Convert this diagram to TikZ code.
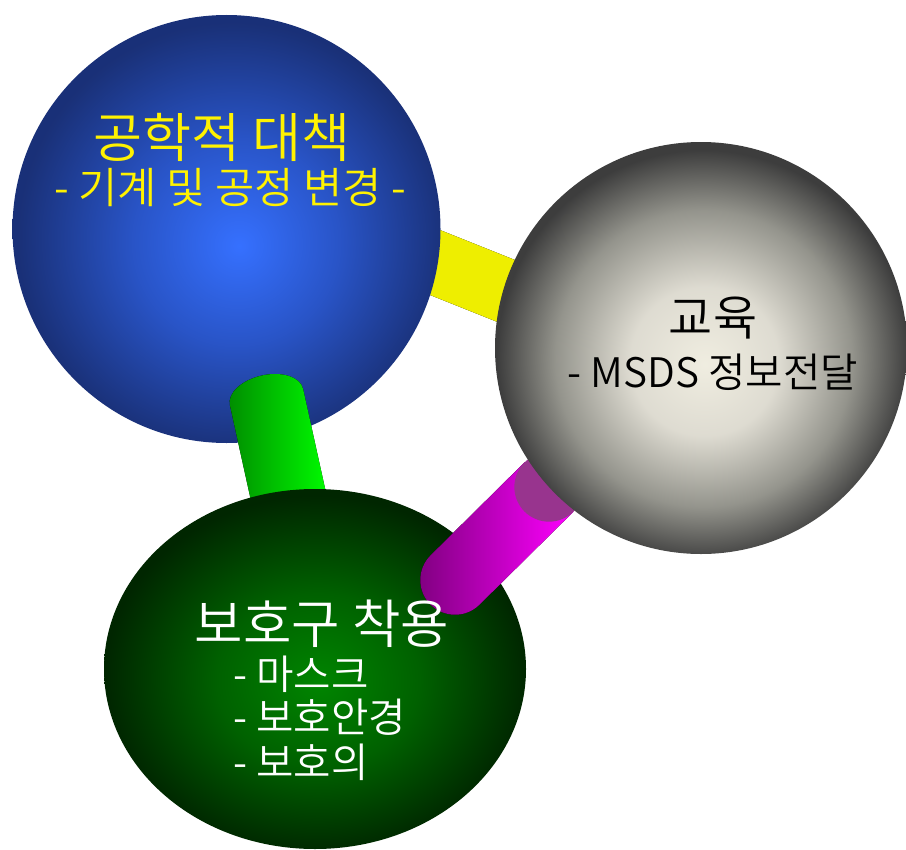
\documentclass[tikz,border=0pt]{standalone}
\usepackage{fontspec}
\setmainfont{Noto Sans CJK KR}[UprightFont={* DemiLight}]
\usetikzlibrary{shapes.geometric}
\pgfdeclareradialshading{blueball}{\pgfpoint{1.5bp}{-2bp}}{rgb(0bp)=(0.21,0.44,1); rgb(12bp)=(0.16,0.33,0.78); rgb(25bp)=(0.1,0.19,0.47); rgb(50bp)=(0.1,0.19,0.47)}
\pgfdeclareradialshading{grayball}{\pgfpoint{0.5bp}{-2bp}}{rgb(0bp)=(0.94,0.93,0.88); rgb(9bp)=(0.87,0.86,0.82); rgb(18bp)=(0.58,0.58,0.55); rgb(25bp)=(0.24,0.24,0.24); rgb(50bp)=(0.24,0.24,0.24)}
\pgfdeclareradialshading{greenball}{\pgfpoint{0.5bp}{-2bp}}{rgb(0bp)=(0,0.52,0); rgb(12bp)=(0,0.38,0); rgb(25bp)=(0,0.15,0); rgb(50bp)=(0,0.15,0)}
\definecolor{capp}{RGB}{152,52,142}
\definecolor{ybright}{RGB}{255,255,0}
\definecolor{yedge}{RGB}{238,238,0}
\tikzset{
  bigA/.style={font=\fontsize{40}{44}\selectfont, inner sep=0},
  bigB/.style={font=\fontsize{36}{40}\selectfont, inner sep=0},
  bigC/.style={font=\fontsize{39.5}{43}\selectfont, inner sep=0},
  subA/.style={font=\fontsize{32}{36}\selectfont, inner sep=0},
  small/.style={font=\fontsize{30.5}{34}\selectfont, inner sep=0},
  ball/.style={circle, inner sep=0}
}
\begin{document}
\begin{tikzpicture}[x=0.75pt,y=-0.75pt]
\useasboundingbox (0,0) rectangle (906,849);
\fill[white] (0,0) rectangle (906,849);
% yellow tube
\coordinate (y1) at (411.9,218.8);
\coordinate (y2) at (571.9,282.8);
\coordinate (y3) at (548.1,342.2);
\coordinate (y4) at (388.1,278.2);
\fill[left color=yedge, middle color=ybright, right color=yedge] (y1) -- (y2) -- (y3) -- (y4) -- cycle;
% blue sphere
\node[ball, minimum size=321pt, shading=blueball] (eng) at (226.5,229) {};
% green tube
\coordinate (g1) at (229.9,405.1);
\coordinate (g2) at (261.8,375.5);
\coordinate (g3) at (303.1,388.9);
\coordinate (g4) at (331.1,515.9);
\coordinate (g5) at (257.9,532.1);
\fill[left color=green!55!black, middle color=green, right color=green]
  (g1) .. controls (227.3,393.2) and (241.6,380.0) .. (g2)
       .. controls (282.0,371.0) and (300.5,377.0) .. (g3)
  -- (g4) -- (g5) -- cycle;
% green ellipse
\node[ellipse, inner sep=0, minimum width=316.5pt, minimum height=270pt, shading=greenball] (ppe) at (315,669) {};
% magenta tube
\coordinate (m1) at (524.6,462.3);
\coordinate (m2) at (430.6,555.3);
\coordinate (m3) at (430.3,604.4);
\coordinate (m4) at (479.4,604.7);
\coordinate (m5) at (573.4,511.7);
\coordinate (mc) at (549,487);
\fill[left color=magenta!50!black, middle color=magenta, right color=magenta]
  (m1) -- (m2) .. controls (417.0,568.8) and (416.8,590.8) .. (m3)
  .. controls (443.8,618.0) and (465.8,618.2) .. (m4) -- (m5) -- cycle;
\fill[capp] (mc) circle[radius=26pt];
% gray sphere
\node[ball, minimum size=309pt, shading=grayball] (edu) at (701,348) {};
% texts
\node[bigA, text=yellow] (t1) at (222,137) {공학적 대책};
\node[subA, text=yellow] (t2) at (230,188) {- 기계 및 공정 변경 -};
\node[bigB, text=black] (t3) at (713,318) {교육};
\node[small, text=black] (t4) at (713,372) {- MSDS 정보전달};
\node[bigC, text=white] (t5) at (322,624) {보호구 착용};
\node[small, text=white, anchor=west] (t6) at (233,674) {- 마스크};
\node[small, text=white, anchor=west] (t7) at (233,717) {- 보호안경};
\node[small, text=white, anchor=west] (t8) at (233,762) {- 보호의};
\end{tikzpicture}
\end{document}
